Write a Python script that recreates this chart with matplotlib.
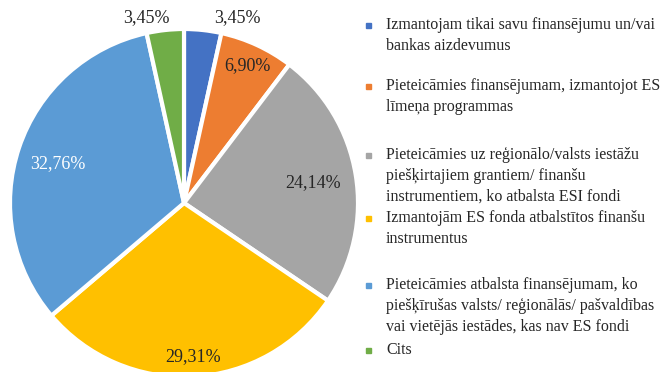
import matplotlib.pyplot as plt

categories = [
    "Izmantojam tikai savu finansējumu un/vai\nbankas aizdevumus",
    "Pieteicāmies finansējumam, izmantojot ES\nlīmeņa programmas",
    "Pieteicāmies uz reģionālo/valsts iestāžu\npiešķirtajiem grantiem/ finanšu\ninstrumentiem, ko atbalsta ESI fondi",
    "Izmantojām ES fonda atbalstītos finanšu\ninstrumentus",
    "Pieteicāmies atbalsta finansējumam, ko\npiešķīrušas valsts/ reģionālās/ pašvaldības\nvai vietējās iestādes, kas nav ES fondi",
    "Cits",
]
shares = [3.45, 6.90, 24.14, 29.31, 32.76, 3.45]
colors = ["#4472C4", "#ED7D31", "#A5A5A5", "#FFC000", "#5B9BD5", "#70AD47"]

# label anchor points in pie data units (radius = 1)
label_pos = [(0.305, 1.063), (0.362, 0.787), (0.741, 0.115),
             (0.052, -0.885), (-0.724, 0.224), (-0.218, 1.063)]
label_colors = ["#262626", "#262626", "#262626", "#262626", "white", "#262626"]
# legend first-line y positions in pixels from top
legend_y = [25, 86, 155, 218, 285, 350]

plt.rcParams["font.family"] = ["Liberation Serif", "DejaVu Serif"]

W, H = 662, 372
fig = plt.figure(figsize=(W / 100, H / 100), dpi=100)

cx, cy, r = 184, 203, 174
ax = fig.add_axes([(cx - r) / W, (H - cy - r) / H, 2 * r / W, 2 * r / H])
ax.pie(shares, colors=colors, startangle=90, counterclock=False,
       wedgeprops=dict(edgecolor="white", linewidth=3))
ax.set_xlim(-1, 1)
ax.set_ylim(-1, 1)
ax.set_axis_off()

for v, (x, y), c in zip(shares, label_pos, label_colors):
    ax.text(x, y, f"{v:.2f}%".replace(".", ","), ha="center", va="center",
            fontsize=13, color=c, clip_on=False)

for name, c, y in zip(categories, colors, legend_y):
    fig.patches.append(plt.Rectangle((366 / W, 1 - (y + 3) / H), 5 / W, 5 / H,
                                     transform=fig.transFigure, color=c))
    fig.text(386 / W, 1 - (y - 8) / H, name, ha="left", va="top",
             fontsize=11.5, color="#262626", linespacing=1.4)

fig.savefig("out.png", dpi=100)
